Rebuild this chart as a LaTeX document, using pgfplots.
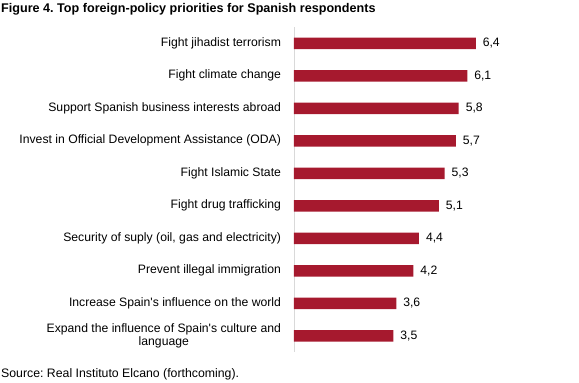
\documentclass[border=0pt]{standalone}
\usepackage{pgfplots}
\pgfplotsset{compat=1.18}
\usepackage{fontspec}
\setmainfont{Liberation Sans}
\frenchspacing
\definecolor{barred}{RGB}{166,25,46}
\definecolor{axgray}{RGB}{217,217,217}
\begin{document}
\begin{tikzpicture}[x=1pt,y=1pt]
\useasboundingbox (0,0) rectangle (579,383);
\node[anchor=west, inner sep=0pt, font=\bfseries\fontsize{12.6}{14}\selectfont] at (1,374) {Figure 4. Top foreign-policy priorities for Spanish respondents};
\node[anchor=west, inner sep=0pt, font=\fontsize{12.3}{14}\selectfont] at (1,9) {Source: Real Instituto Elcano (forthcoming).};
\begin{axis}[
  at={(294pt,31pt)}, anchor=south west,
  width=267pt, height=325pt, scale only axis,
  xbar, bar width=11.5pt,
  xmin=0, xmax=9.4, ymin=-0.5, ymax=9.5,
  y dir=reverse,
  axis lines*=left,
  x axis line style={draw=none},
  y axis line style={draw=axgray, line width=0.8pt},
  xtick=\empty,
  ytick={0,...,9},
  major tick length=0pt,
  yticklabels={Fight jihadist terrorism, Fight climate change, Support Spanish business interests abroad, Invest in Official Development Assistance (ODA), Fight Islamic State, Fight drug trafficking, {Security of suply (oil, gas and electricity)}, Prevent illegal immigration, Increase Spain\textquotesingle s influence on the world, {Expand the influence of Spain\textquotesingle s culture and\\language}},
  yticklabel style={font=\fontsize{12.2}{13.5}\selectfont, align=center, xshift=-9.5pt},
  nodes near coords,
  nodes near coords style={font=\fontsize{12.2}{14}\selectfont, xshift=3.5pt, /pgf/number format/.cd, use comma, fixed, fixed zerofill, precision=1, assume math mode=true},
  clip=false,
]
\addplot[fill=barred, draw=none] coordinates {
(6.4,0) (6.1,1) (5.8,2) (5.7,3) (5.3,4) (5.1,5) (4.4,6) (4.2,7) (3.6,8) (3.5,9)
};
\end{axis}
\end{tikzpicture}
\end{document}
